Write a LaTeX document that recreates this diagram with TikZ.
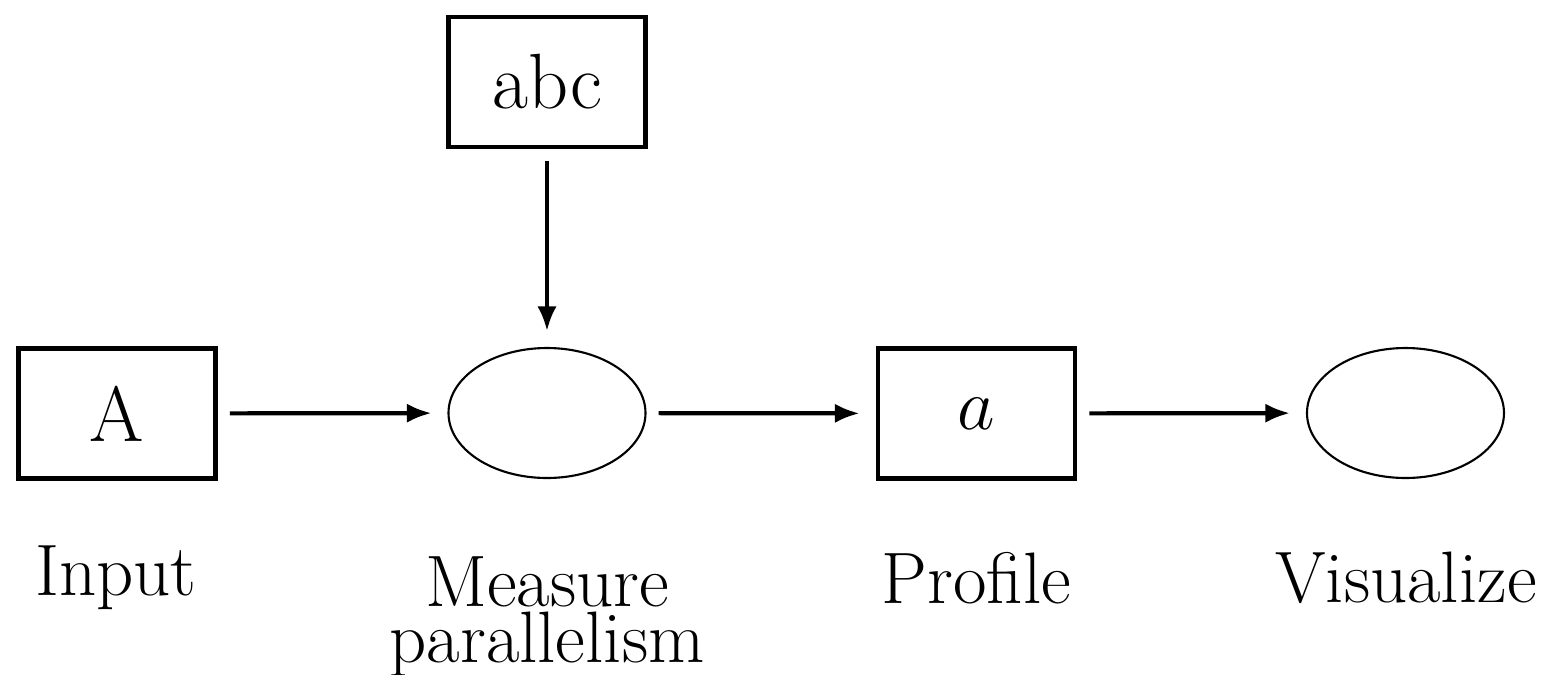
\documentclass[tikz,border=0pt]{standalone}
\usetikzlibrary{shapes.geometric}
\usetikzlibrary{arrows.meta}
\tikzset{box/.style = {draw, rectangle, line width=1.4pt,
                       minimum width=1.97cm, minimum height=1.30cm,
                       inner sep=0, font=\fontsize{22.3}{26}\selectfont}}
\tikzset{oval/.style = {draw, ellipse, line width=0.6pt,
                        minimum width=1.97cm, minimum height=1.30cm}}
\tikzset{caption/.style = {align=center, inner sep=0,
                           font=\fontsize{20.74}{16}\selectfont}}
\tikzset{flow/.style = {-{Latex[length=7pt,width=5.5pt]}, line width=1.2pt,
                        shorten <=0.12cm, shorten >=0.16cm}}

\begin{document}
\begin{tikzpicture}
        \useasboundingbox (0,0) rectangle (15.43,6.74);
        % boxes and ovals
        \node[box] (input) at (1.17,2.605) {A};
        \node[oval] (measure) at (5.47,2.61) {};
        \node[box] (abc) at (5.47,5.92) {abc};
        \node[box] (profile) at (9.765,2.605) {$a$};
        \node[oval] (visual) at (14.055,2.61) {};
        % connectors
        \draw[flow] (input) -- (measure);
        \draw[flow] (abc) -- (measure);
        \draw[flow] (measure) -- (profile);
        \draw[flow] (profile) -- (visual);
        % captions
        \node[caption] (inputtxt) at (1.16,0.96) {Input};
        \node[caption] (measuretxt) at (5.47,0.57) {Measure\\parallelism};
        \node[caption] (profiletxt) at (9.765,0.96) {Profile};
        \node[caption] (visualtxt) at (14.06,0.96) {Visualize};
    \end{tikzpicture}
\end{document}
